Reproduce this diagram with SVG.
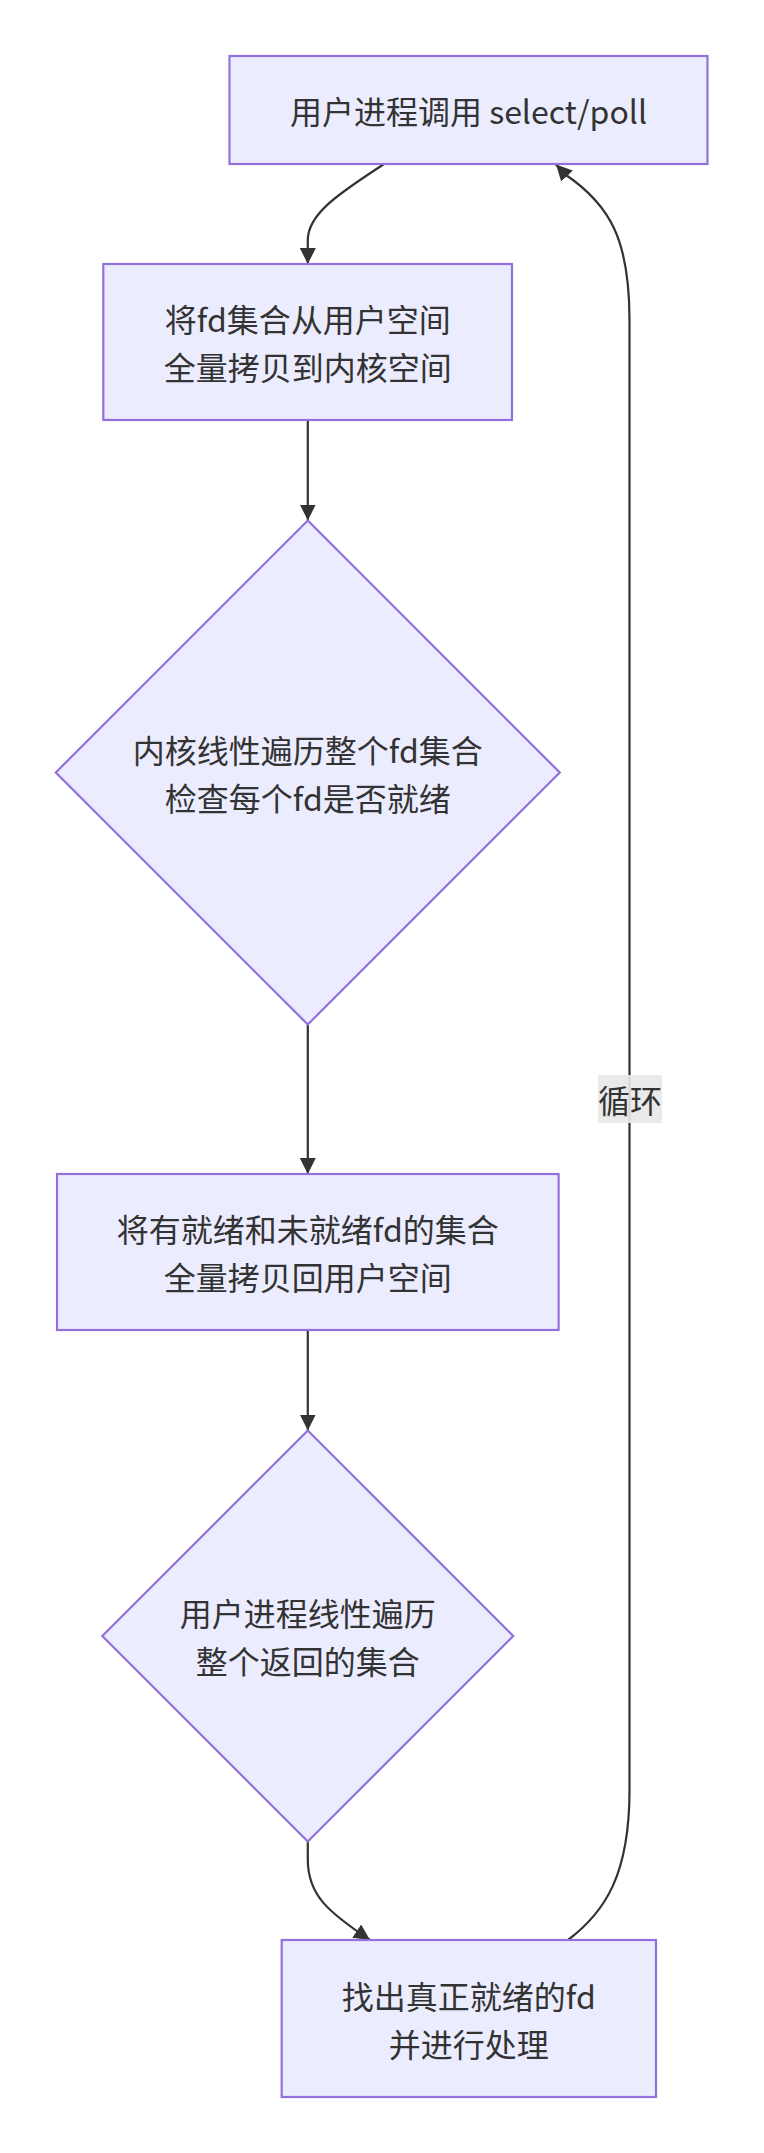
<svg xmlns="http://www.w3.org/2000/svg" width="764" height="2153" viewBox="0 0 764 2153">
<style>
.node rect,.node polygon{fill:#ECECFF;stroke:#9370DB;stroke-width:2.2}
.edge{fill:none;stroke:#333333;stroke-width:2.2}
text{font-family:"Noto Sans CJK SC","Liberation Sans",sans-serif;font-size:32px;fill:#333333;text-anchor:middle;dominant-baseline:central}
.lblbg{fill:#e8e8e8;fill-opacity:0.9}
</style>
<defs>
<marker id="arrow" viewBox="0 0 10 10" refX="10" refY="5" markerUnits="userSpaceOnUse" markerWidth="16" markerHeight="16" orient="auto">
<path d="M0,0 L10,5 L0,10 z" fill="#333333"/>
</marker>
</defs>
<rect width="764" height="2153" fill="#ffffff"/>
<g id="connectors">
<path class="edge" d="M384,164 C345,190 307.8,212 307.8,240 L307.8,264" marker-end="url(#arrow)"/>
<path class="edge" d="M307.8,420 L307.8,520.5" marker-end="url(#arrow)"/>
<path class="edge" d="M307.8,1024.5 L307.8,1174" marker-end="url(#arrow)"/>
<path class="edge" d="M307.8,1330 L307.8,1430.5" marker-end="url(#arrow)"/>
<path class="edge" d="M307.8,1841.5 L307.8,1860 C308,1895 328,1912 370,1940" marker-end="url(#arrow)"/>
<path class="edge" d="M568,1940 C605,1912 629.5,1875 629.5,1790 L629.5,320 C629.5,240 610,205 566,175 L556,164.5" marker-end="url(#arrow)"/>
<g id="edge-label">
<rect class="lblbg" x="598" y="1075" width="64" height="48"/>
<text x="630" y="1099">循环</text>
</g>
</g>
<g id="n1" class="node">
<rect x="229.5" y="56" width="478" height="108"/>
<text x="468.5" y="110">用户进程调用 select/poll</text>
</g>
<g id="n2" class="node">
<rect x="103.3" y="264" width="408.7" height="156"/>
<text x="307.8" y="318">将fd集合从用户空间</text>
<text x="307.8" y="366">全量拷贝到内核空间</text>
</g>
<g id="n3" class="node">
<polygon points="307.8,520.5 559.8,772.5 307.8,1024.5 55.8,772.5"/>
<text x="307.8" y="748.5">内核线性遍历整个fd集合</text>
<text x="307.8" y="796.5">检查每个fd是否就绪</text>
</g>
<g id="n4" class="node">
<rect x="57" y="1174" width="501.6" height="156"/>
<text x="307.8" y="1228">将有就绪和未就绪fd的集合</text>
<text x="307.8" y="1276">全量拷贝回用户空间</text>
</g>
<g id="n5" class="node">
<polygon points="307.8,1430.5 513.3,1636 307.8,1841.5 102.3,1636"/>
<text x="307.8" y="1612">用户进程线性遍历</text>
<text x="307.8" y="1660">整个返回的集合</text>
</g>
<g id="n6" class="node">
<rect x="281.7" y="1940" width="374.3" height="157"/>
<text x="468.8" y="1994.5">找出真正就绪的fd</text>
<text x="468.8" y="2042.5">并进行处理</text>
</g>
</svg>
